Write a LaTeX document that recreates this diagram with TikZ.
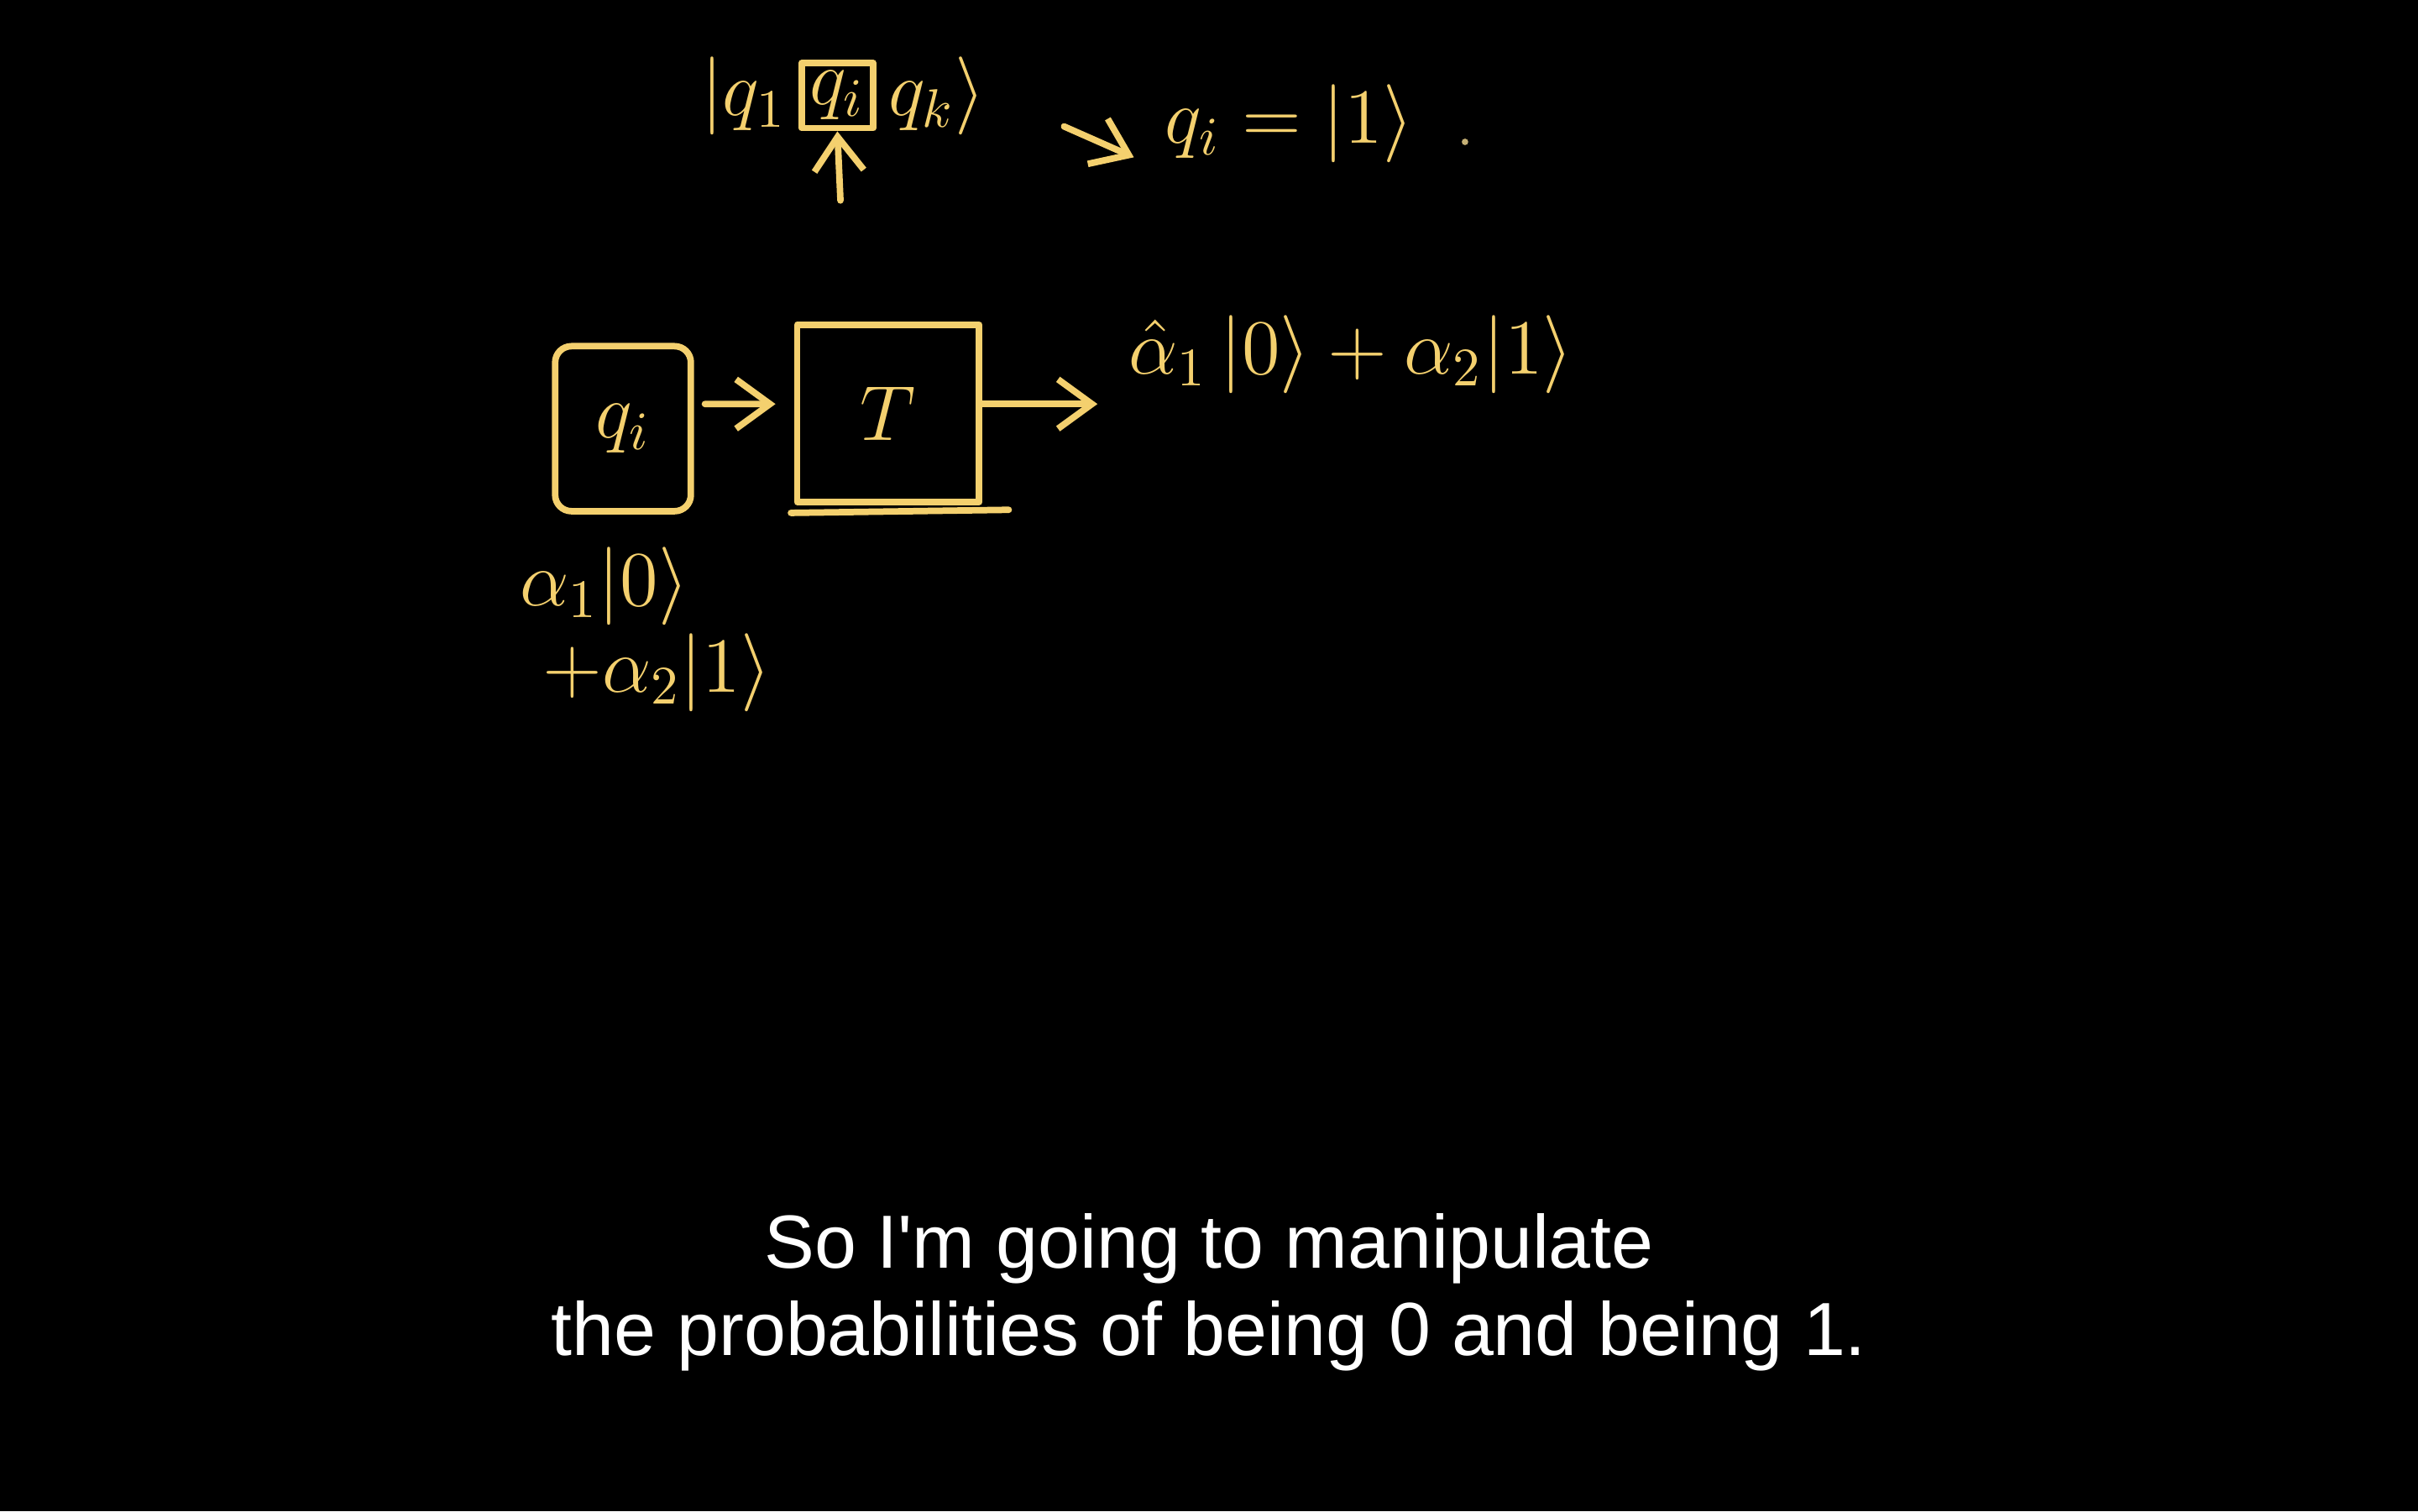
\documentclass[tikz,border=0pt]{standalone}
\usepackage{amsmath,amssymb}
\usepackage{fontspec}
\newfontfamily\subfont{Liberation Sans}
\usepackage{tikz}
\usetikzlibrary{arrows.meta,positioning,calc}
\definecolor{chalk}{RGB}{244,208,110}

\begin{document}
\begin{tikzpicture}[
  ink/.style={draw=chalk, line width=1.2pt, line cap=round, line join=round},
  gate/.style={ink, minimum width=1.18cm, minimum height=1.15cm, inner sep=0pt},
  wire/.style={ink, -{Straight Barb[length=2.2mm,width=3.2mm]}},
  hand/.style={text=chalk, font=\fontsize{14}{16}\selectfont, inner sep=1pt},
  caption/.style={text=white, font=\subfont\fontsize{13.9}{16.2}\selectfont, align=center}
]
  % page: 15.68 x 9.8, black board
  \fill[black] (0,0) rectangle (15.68,9.8);
  \useasboundingbox (0,0) rectangle (15.68,9.8);

  % register and the selected qubit
  \node[hand, ink, inner sep=1.5pt] (qsel) at (5.43,9.18) {$q_i$};
  \node[hand, left=1pt of qsel] (ketL) {$|q_1$};
  \node[hand, right=1pt of qsel] (ketR) {$q_k\rangle$};
  \coordinate (ptr) at (5.45,8.50);
  \draw[wire] (ptr) -- (qsel.south);

  \coordinate (rstart) at (6.90,8.98);
  \node[hand] (res) at (8.36,9.00) {$q_i = |1\rangle$};
  \draw[wire] (rstart) -- ([xshift=-0.16cm,yshift=-0.22cm]res.west);
  \fill[chalk!60!gray] (9.50,8.88) circle (0.6pt);

  % qubit through the gate
  \node[gate, rounded corners=3pt, minimum width=0.88cm, minimum height=1.07cm, hand] (qin) at (4.04,7.02) {$q_i$};
  \node[gate, hand] (tg) at (5.76,7.12) {$T$};
  \draw[ink] ([xshift=-0.02cm,yshift=-0.05cm]tg.south west) -- ([xshift=0.17cm,yshift=-0.03cm]tg.south east);
  \node[hand] (out) at (8.76,7.50) {$\hat{\alpha}_1\,|0\rangle + \alpha_2|1\rangle$};

  \draw[wire] ([xshift=0.07cm,yshift=0.16cm]qin.east) -- ([xshift=-0.12cm,yshift=0.06cm]tg.west);
  \draw[wire, shorten >=0.16cm] ([yshift=0.06cm]tg.east) -- ([yshift=0.06cm]tg.east -| out.west);

  \node[hand] (ain1) at (3.92,6.00) {$\alpha_1|0\rangle$};
  \node[hand] (ain2) at (4.26,5.44) {$+\alpha_2|1\rangle$};

  % subtitle
  \node[caption] (sub) at (7.84,1.42) {So I'm going to manipulate\\the probabilities of being 0 and being 1.};
\end{tikzpicture}
\end{document}
